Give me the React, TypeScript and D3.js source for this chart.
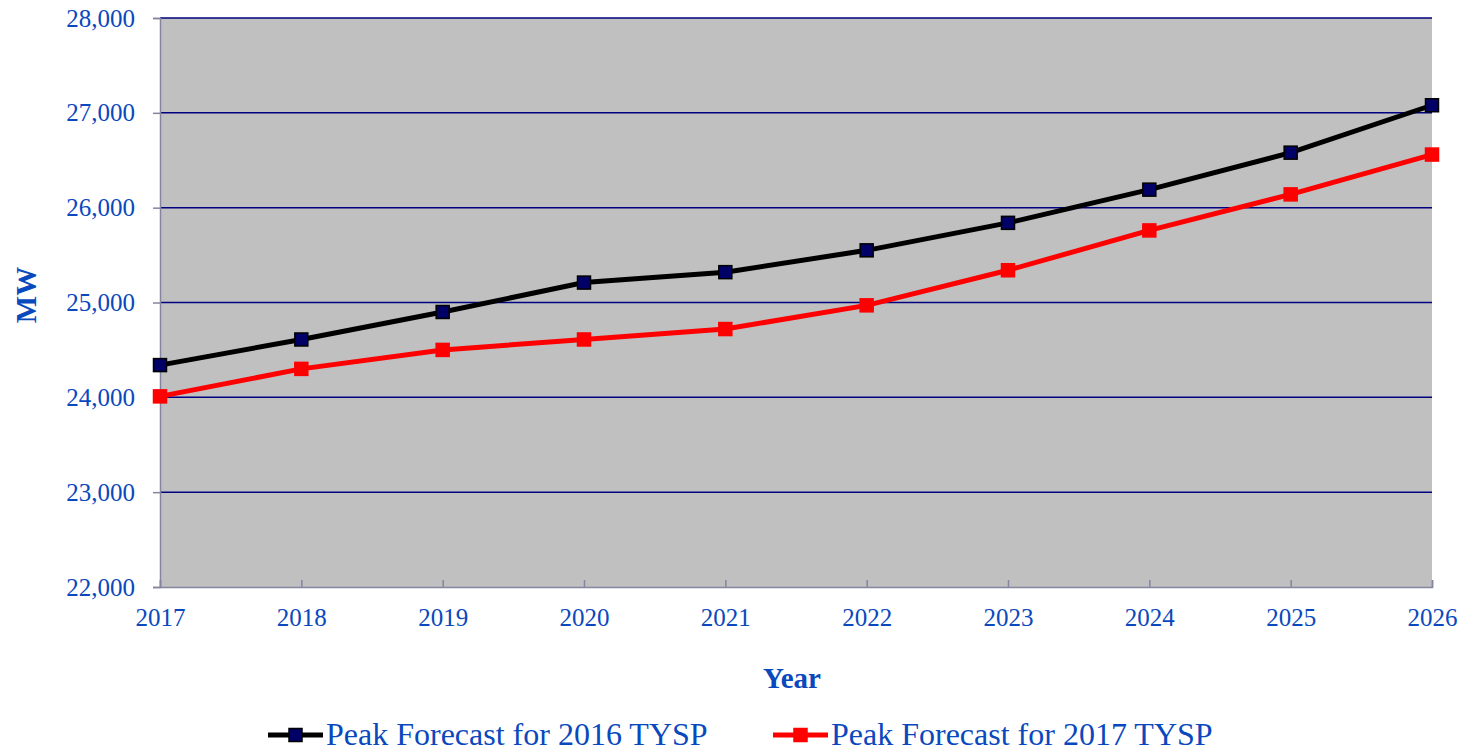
import { useEffect, useRef } from "react"
import * as d3 from "d3"

const years = [2017, 2018, 2019, 2020, 2021, 2022, 2023, 2024, 2025, 2026]
const forecast2016 = [24340, 24610, 24900, 25210, 25320, 25550, 25840, 26190, 26580, 27080]
const forecast2017 = [24010, 24300, 24500, 24610, 24720, 24970, 25340, 25760, 26140, 26560]
const yTicks = [22000, 23000, 24000, 25000, 26000, 27000, 28000]

const seriesNames = ["Peak Forecast for 2016 TYSP", "Peak Forecast for 2017 TYSP"]

const textColor = "#0a48bd"
const font = "'Liberation Serif', 'Times New Roman', serif"

export default function App() {
  const svgRef = useRef<SVGSVGElement>(null)

  useEffect(() => {
    if (!svgRef.current) return
    const W = 1464
    const H = 751
    const margin = { top: 18, right: 32, bottom: 164, left: 160 }
    const width = W - margin.left - margin.right
    const height = H - margin.top - margin.bottom

    const root = d3.select(svgRef.current)
    root.selectAll("*").remove()
    root.attr("width", W).attr("height", H).style("display", "block")

    const svg = root.append("g").attr("transform", `translate(${margin.left},${margin.top})`)

    const x = d3.scaleLinear().domain([2017, 2026]).range([0, width])
    const y = d3.scaleLinear().domain([22000, 28000]).range([height, 0])

    // plot background
    svg.append("rect").attr("width", width).attr("height", height).attr("fill", "#c0c0c0")

    // gridlines
    svg
      .selectAll(".grid")
      .data(yTicks.filter((t) => t !== 22000))
      .enter()
      .append("line")
      .attr("x1", 0)
      .attr("x2", width)
      .attr("y1", (d) => y(d))
      .attr("y2", (d) => y(d))
      .attr("stroke", "#000080")
      .attr("stroke-width", 1.5)

    // Y axis
    const yAxis = svg
      .append("g")
      .call(d3.axisLeft(y).tickValues(yTicks).tickSize(7).tickPadding(18).tickFormat(d3.format(",")))
    yAxis.select(".domain").attr("stroke", "#8585a0").attr("stroke-width", 1.5)
    yAxis.selectAll(".tick line").attr("stroke", "#8585a0").attr("stroke-width", 1.5)
    yAxis.selectAll("text").style("fill", textColor).style("font-family", font).style("font-size", "25px")

    // X axis
    const xAxis = svg
      .append("g")
      .attr("transform", `translate(0,${height})`)
      .call(d3.axisBottom(x).tickValues(years).tickSize(-7).tickPadding(21).tickFormat(d3.format("d")))
    xAxis.select(".domain").attr("stroke", "#8585a0").attr("stroke-width", 1.5)
    xAxis.selectAll(".tick line").attr("stroke", "#8585a0").attr("stroke-width", 1.5)
    xAxis.selectAll("text").style("fill", textColor).style("font-family", font).style("font-size", "25px")

    const series = [
      { name: seriesNames[0], values: forecast2016, line: "#000000", fill: "#000066", stroke: "#000000" },
      { name: seriesNames[1], values: forecast2017, line: "#ff0000", fill: "#ff0000", stroke: "#ff0000" },
    ]

    const line = d3
      .line<number>()
      .x((_, i) => x(years[i]))
      .y((d) => y(d))

    series.forEach((s) => {
      svg
        .append("path")
        .datum(s.values)
        .attr("fill", "none")
        .attr("stroke", s.line)
        .attr("stroke-width", 5)
        .attr("d", line)

      svg
        .selectAll(null)
        .data(s.values)
        .enter()
        .append("rect")
        .attr("x", (_, i) => x(years[i]) - 6.5)
        .attr("y", (d) => y(d) - 6.5)
        .attr("width", 13)
        .attr("height", 13)
        .attr("fill", s.fill)
        .attr("stroke", s.stroke)
        .attr("stroke-width", 1.5)
    })

    // axis titles
    root
      .append("text")
      .attr("x", 792)
      .attr("y", 688)
      .attr("text-anchor", "middle")
      .style("fill", textColor)
      .style("font-family", font)
      .style("font-size", "29px")
      .style("font-weight", "bold")
      .text("Year")

    root
      .append("text")
      .attr("transform", `translate(36,295) rotate(-90)`)
      .attr("text-anchor", "middle")
      .style("fill", textColor)
      .style("font-family", font)
      .style("font-size", "29px")
      .style("font-weight", "bold")
      .text("MW")

    // legend
    const legendX = [268, 773]
    series.forEach((s, i) => {
      const g = root.append("g").attr("transform", `translate(${legendX[i]},735)`)
      g.append("line")
        .attr("x1", 0)
        .attr("x2", 55)
        .attr("y1", 0)
        .attr("y2", 0)
        .attr("stroke", s.line)
        .attr("stroke-width", 5)
      g.append("rect")
        .attr("x", 21)
        .attr("y", -6.5)
        .attr("width", 13)
        .attr("height", 13)
        .attr("fill", s.fill)
        .attr("stroke", s.stroke)
        .attr("stroke-width", 1.5)
      g.append("text")
        .attr("x", 58)
        .attr("y", 10)
        .style("fill", textColor)
        .style("font-family", font)
        .style("font-size", "32px")
        .text(s.name)
    })
  }, [])

  return (
    <div style={{ position: "absolute", left: 0, top: 0 }}>
      <svg ref={svgRef}></svg>
    </div>
  )
}
